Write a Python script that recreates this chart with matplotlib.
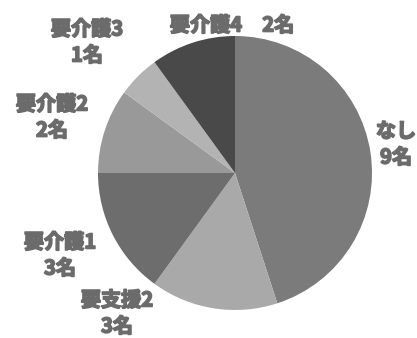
import matplotlib.pyplot as plt
import matplotlib.patheffects as pe

plt.rcParams['font.family'] = ['Noto Sans CJK JP', 'DejaVu Sans']

# care level breakdown (people)
categories = ['なし', '要支援2', '要介護1', '要介護2', '要介護3', '要介護4']
counts = [9, 3, 3, 2, 1, 2]
colors = ['#7b7b7b', '#a9a9a9', '#6d6d6d', '#999999', '#b3b3b3', '#494949']

# label anchor points (pixel coords, y measured from top)
label_pos = [(396, 144), (117, 313), (60, 255), (52, 117), (87, 42), (232, 25)]
label_text = [f'{c}\n{n}名' for c, n in zip(categories, counts)]
label_text[5] = f'{categories[5]}　{counts[5]}名'

W, H = 417, 338
fig = plt.figure(figsize=(W / 100, H / 100), dpi=100)
ax = fig.add_axes([0, 0, 1, 1])
ax.axis('off')

ax.pie(counts, colors=colors, startangle=90, counterclock=False,
       center=(235, H - 173), radius=137,
       wedgeprops=dict(linewidth=0))
ax.set_xlim(0, W)
ax.set_ylim(0, H)
ax.set_aspect('equal')

# thicken the glyphs a little with a same-colour stroke
thick = [pe.withStroke(linewidth=1.2, foreground='#6b6b6b')]
for (x, y), txt in zip(label_pos, label_text):
    ax.text(x, H - y, txt, ha='center', va='center', fontsize=14.5,
            fontweight='bold', color='#6b6b6b', linespacing=1.3,
            path_effects=thick)

fig.savefig('out.png', dpi=100)
